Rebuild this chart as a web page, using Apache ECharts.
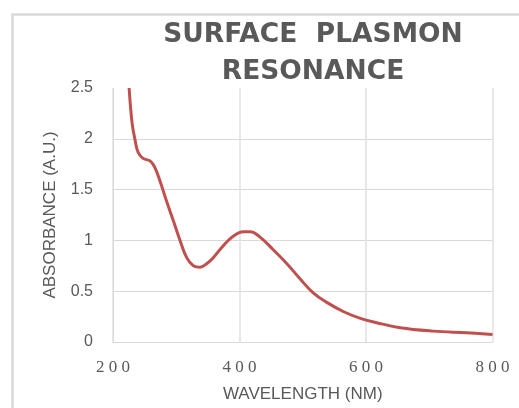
<!DOCTYPE html>
<html>
<head>
<meta charset="utf-8">
<script src="https://cdn.jsdelivr.net/npm/echarts@6/dist/echarts.min.js"></script>
<style>
html,body{margin:0;padding:0;background:#fff;}
#chart{width:519px;height:408px;}
</style>
</head>
<body>
<div id="chart"></div>
<script>
var titleText = "SURFACE  PLASMON\nRESONANCE";
var xAxisName = "WAVELENGTH (NM)";
var yAxisName = "ABSORBANCE (A.U.)";
var wavelength = [225.5, 227.5, 230.5, 234.5, 239.5, 247, 259, 266, 274, 284, 295, 306, 316.5, 327, 337.5, 348, 358.5, 374, 390, 406, 417, 432, 453, 475, 496, 517, 538, 564, 590, 617, 654, 706, 759, 800];
var absorbance = [2.5, 2.33, 2.14, 2.0, 1.87, 1.81, 1.78, 1.72, 1.59, 1.40, 1.20, 1.00, 0.83, 0.75, 0.735, 0.77, 0.83, 0.945, 1.04, 1.085, 1.085, 1.035, 0.91, 0.77, 0.62, 0.48, 0.39, 0.30, 0.235, 0.19, 0.14, 0.107, 0.09, 0.075];
var xMin = 200, xMax = 800, xStep = 200;
var yMin = 0, yMax = 2.5, yStep = 0.5;

var seriesData = wavelength.map(function (w, i) { return [w, absorbance[i]]; });
var gray = '#595959';
var chart = echarts.init(document.getElementById('chart'), null, {renderer: 'canvas'});
chart.setOption({
  backgroundColor: '#ffffff',
  animation: false,
  graphic: [{
    type: 'rect', left: 10, top: 12, silent: true, z: -1,
    shape: {x: 0, y: 0, width: 700, height: 600},
    style: {fill: 'none', stroke: '#d9d9d9', lineWidth: 2.5}
  }],
  title: {
    text: titleText,
    left: 313, top: 17, padding: 0,
    textAlign: 'center',
    textStyle: {fontFamily: 'DejaVu Sans', fontWeight: 'bold', fontSize: 26.5, lineHeight: 37, color: gray}
  },
  grid: {left: 113, right: 26.5, top: 88, bottom: 62, containLabel: false},
  xAxis: {
    type: 'value', min: xMin, max: xMax, interval: xStep,
    name: xAxisName, nameLocation: 'middle', nameGap: 44,
    nameTextStyle: {fontFamily: 'Liberation Sans', fontSize: 17, color: gray},
    axisLine: {show: true, lineStyle: {color: '#d9d9d9', width: 1}},
    axisTick: {show: false},
    axisLabel: {
      margin: 17, color: gray, fontFamily: 'Liberation Serif', fontSize: 17,
      formatter: function (v) { return String(v).split('').join(' '); }
    },
    splitLine: {show: true, lineStyle: {color: '#e0e0e0', width: 1.5}}
  },
  yAxis: {
    type: 'value', min: yMin, max: yMax, interval: yStep,
    name: yAxisName, nameLocation: 'middle', nameGap: 54, nameRotate: 90,
    nameTextStyle: {fontFamily: 'Liberation Sans', fontSize: 17, color: gray},
    axisLine: {show: true, lineStyle: {color: '#d9d9d9', width: 1}},
    axisTick: {show: false},
    axisLabel: {margin: 20, color: gray, fontFamily: 'Liberation Sans', fontSize: 16},
    splitLine: {show: true, lineStyle: {color: ['#d9d9d9', '#d9d9d9', '#d9d9d9', '#d9d9d9', '#d9d9d9', 'rgba(0,0,0,0)'], width: 1}}
  },
  series: [{
    type: 'line', data: seriesData, smooth: 0.4, showSymbol: false, clip: true,
    lineStyle: {color: '#c0504d', width: 3},
    itemStyle: {color: '#c0504d'}
  }]
});
</script>
</body>
</html>
